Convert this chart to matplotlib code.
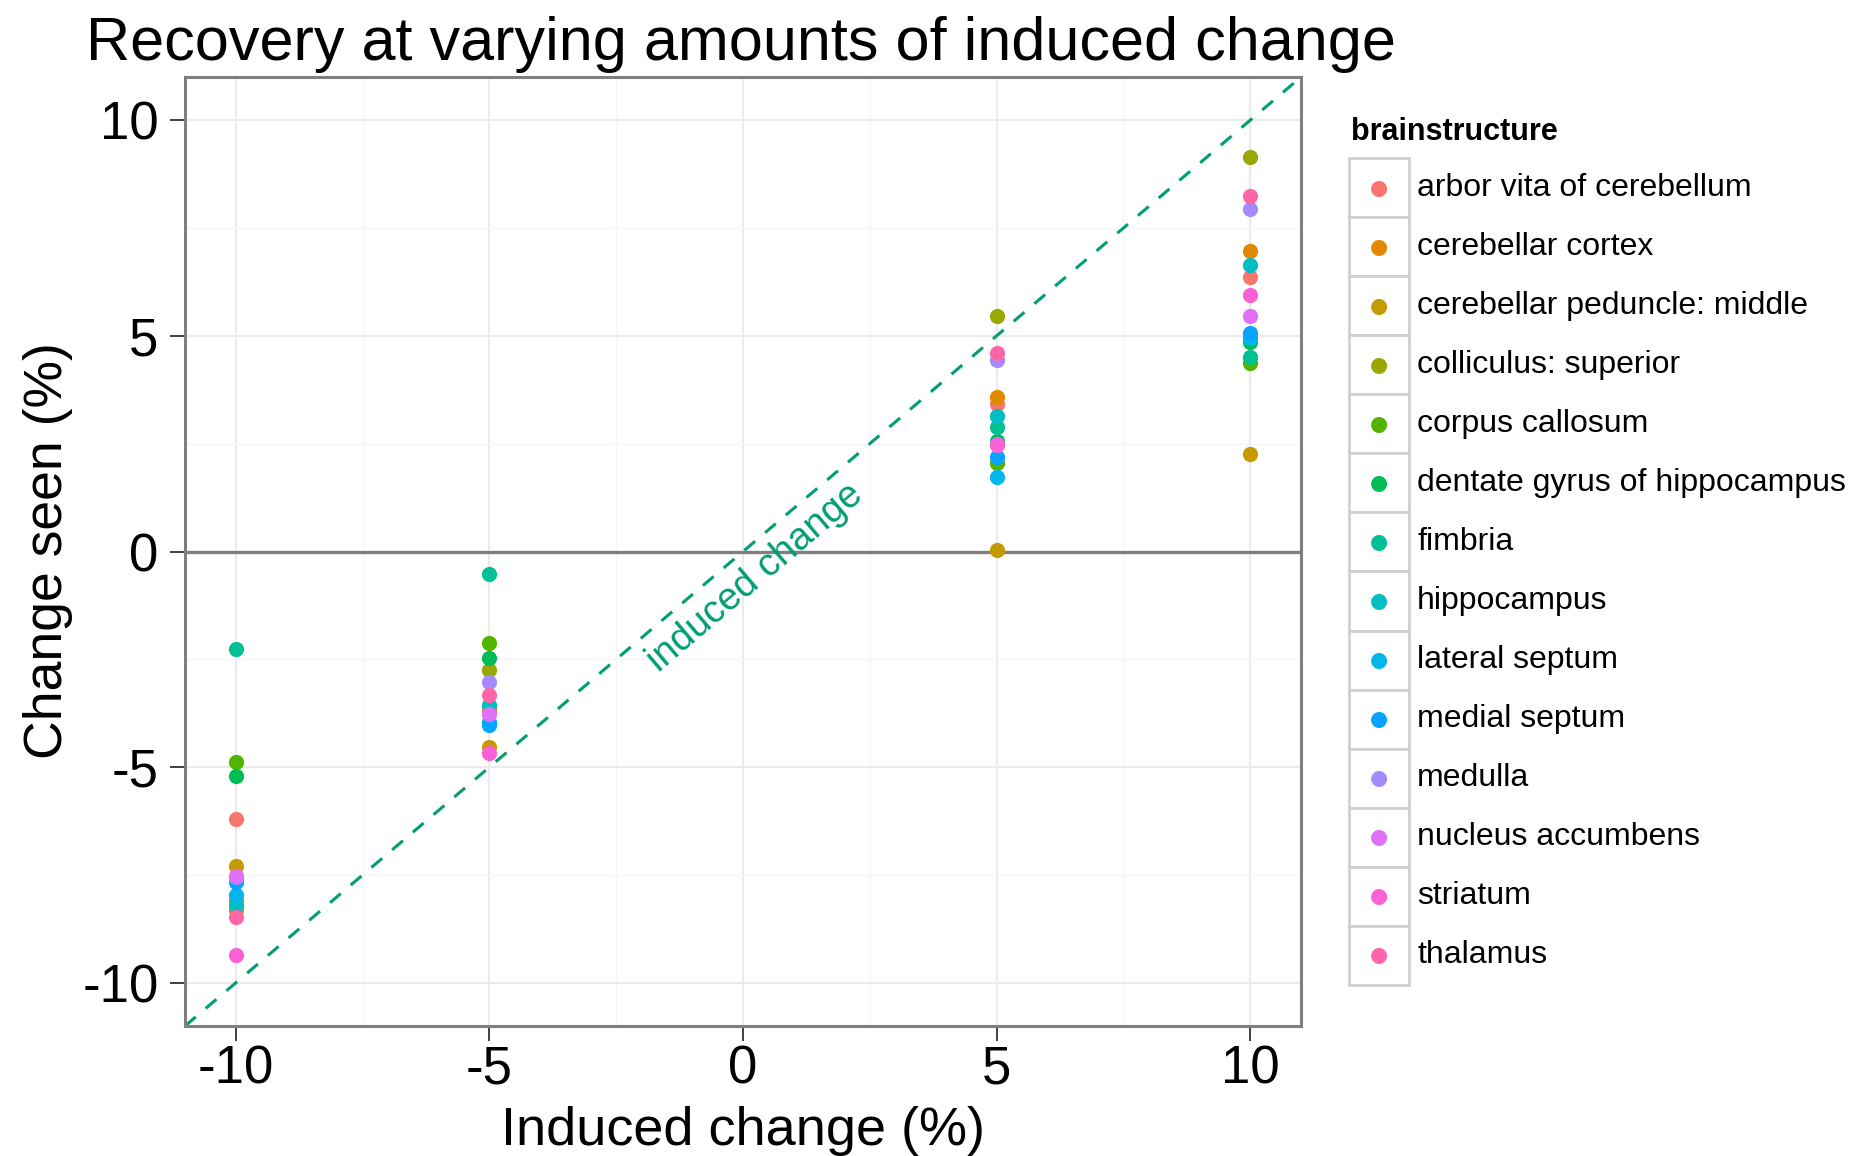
import numpy as np
import matplotlib
matplotlib.use('Agg')
import matplotlib.pyplot as plt
from matplotlib.patches import Rectangle

plt.rcParams['font.family'] = ['Liberation Sans', 'DejaVu Sans']
plt.rcParams['axes.unicode_minus'] = False  # 用普通连字符作负号

# 数据
induced = [-10, -5, 5, 10]
structures = [
    'arbor vita of cerebellum', 'cerebellar cortex', 'cerebellar peduncle: middle',
    'colliculus: superior', 'corpus callosum', 'dentate gyrus of hippocampus',
    'fimbria', 'hippocampus', 'lateral septum', 'medial septum', 'medulla',
    'nucleus accumbens', 'striatum', 'thalamus',
]
arbor_vita = [-6.2, -3.6, 3.41, 6.37]
cerebellar_cortex = [-8.3, -3.7, 3.58, 6.97]
cerebellar_peduncle = [-7.3, -4.53, 0.04, 2.27]
colliculus = [-8.1, -2.75, 5.47, 9.15]
corpus_callosum = [-4.87, -2.12, 2.06, 4.36]
dentate_gyrus = [-5.21, -2.46, 2.56, 4.86]
fimbria = [-2.27, -0.53, 2.89, 4.5]
hippocampus = [-8.2, -3.56, 3.14, 6.64]
lateral_septum = [-7.97, -3.95, 1.73, 4.95]
medial_septum = [-7.67, -4.03, 2.19, 5.07]
medulla = [-7.55, -3.03, 4.43, 7.94]
nucleus_accumbens = [-7.52, -3.77, 2.5, 5.45]
striatum = [-9.35, -4.66, 2.47, 5.94]
thalamus = [-8.47, -3.33, 4.6, 8.24]
seen = [arbor_vita, cerebellar_cortex, cerebellar_peduncle, colliculus,
        corpus_callosum, dentate_gyrus, fimbria, hippocampus, lateral_septum,
        medial_septum, medulla, nucleus_accumbens, striatum, thalamus]

# ggplot 默认色相
colors = ['#F8766D', '#E38900', '#C49A00', '#99A800', '#53B400', '#00BC56',
          '#00C094', '#00BFC4', '#00B6EB', '#06A4FF', '#A58AFF', '#DF70F8',
          '#FB61D7', '#FF66A8']

W, H = 1867, 1156
fig = plt.figure(figsize=(W / 100, H / 100), dpi=100)
fig.patch.set_facecolor('white')
ax = fig.add_axes([185 / W, 1 - 1026 / H, (1301 - 185) / W, (1026 - 77) / H])

ax.set_xlim(-11, 11)
ax.set_ylim(-11, 11)
ticks = [-10, -5, 0, 5, 10]
ax.set_xticks(ticks)
ax.set_yticks(ticks)
ax.set_xticks([-7.5, -2.5, 2.5, 7.5], minor=True)
ax.set_yticks([-7.5, -2.5, 2.5, 7.5], minor=True)
ax.grid(which='major', color='#EBEBEB', lw=1.5, zorder=0)
ax.grid(which='minor', color='#F5F5F5', lw=1.0, zorder=0)
ax.set_axisbelow(True)
ax.tick_params(which='minor', length=0)
ax.tick_params(which='major', length=11, width=1.3, color='#333333',
               labelsize=38, labelcolor='black')
ax.tick_params(axis='x', pad=2)
ax.tick_params(axis='y', pad=8)
for s in ax.spines.values():
    s.set_color('#7F7F7F')
    s.set_linewidth(2.2)

# 零线与对角线
ax.axhline(0, color='#7F7F7F', lw=2.4, zorder=1)
ax.plot([-11, 11], [-11, 11], color='#009E73', lw=2.2,
        linestyle=(0, (4.6, 4.3)), zorder=1)
ax.text(0.25, -0.6, 'induced change', color='#009E73', fontsize=27.5,
        rotation=45, transform_rotates_text=True, rotation_mode='anchor',
        ha='center', va='center')

# 散点
for name, vals, c in zip(structures, seen, colors):
    ax.scatter(induced, vals, s=120, color=c, linewidths=0, zorder=3)

# 标题与坐标轴标签
fig.text(86 / W, 1 - 60 / H, 'Recovery at varying amounts of induced change',
         fontsize=44, ha='left', va='baseline')
fig.text(743 / W, 1 - 1145 / H, 'Induced change (%)', fontsize=39,
         ha='center', va='baseline')
fig.text(48 / W, 1 - 551 / H, 'Change seen (%)', fontsize=38.5,
         rotation=90, ha='center', va='center')

# 图例
fig.text(1351 / W, 1 - 140 / H, 'brainstructure', fontsize=22,
         fontweight='bold', ha='left', va='baseline')
row_h = 59.07
top = 158
for i, (name, c) in enumerate(zip(structures, colors)):
    y0 = top + i * row_h
    fig.patches.append(Rectangle((1349 / W, 1 - (y0 + row_h) / H), 60 / W, row_h / H,
                                 transform=fig.transFigure, facecolor='white',
                                 edgecolor='#D0D0D0', lw=2.0))
    fig.text(1379 / W, 1 - (y0 + row_h / 2) / H, '\u25CF', color=c, fontsize=15,
             ha='center', va='center', family='DejaVu Sans')
    fig.text(1417 / W, 1 - (y0 + row_h / 2) / H, name, fontsize=23,
             ha='left', va='center')

fig.savefig('out.png', dpi=100, facecolor='white')
